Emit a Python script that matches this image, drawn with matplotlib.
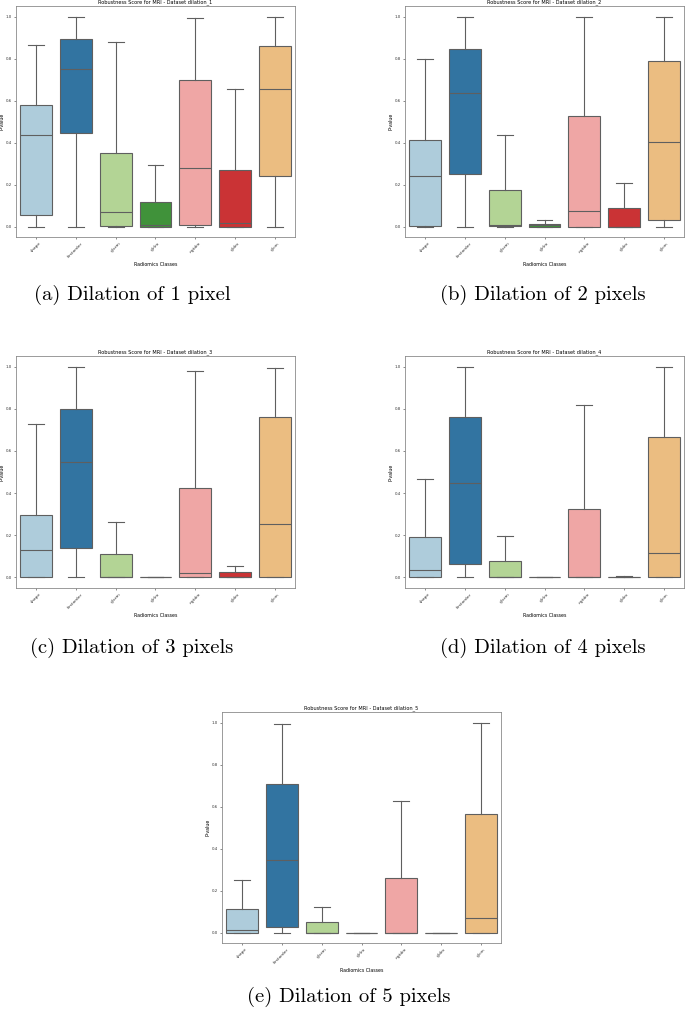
import matplotlib
matplotlib.use("Agg")
import matplotlib.pyplot as plt
import seaborn as sns

classes = ["shape", "firstorder", "glszm", "glrlm", "ngtdm", "gldm", "glcm"]

# box stats: lower whisker, Q1, median, Q3, upper whisker
d1_lo = [0, 0, 0, 0, 0, 0, 0]
d1_q1 = [0.057, 0.444, 0.003, 0.0, 0.005, 0.0, 0.241]
d1_med = [0.436, 0.751, 0.067, 0.008, 0.277, 0.019, 0.656]
d1_q3 = [0.580, 0.892, 0.352, 0.117, 0.699, 0.268, 0.861]
d1_hi = [0.864, 1.0, 0.880, 0.293, 0.994, 0.656, 1.0]

d2_lo = [0, 0, 0, 0, 0, 0, 0]
d2_q1 = [0.002, 0.250, 0.001, 0.0, 0.0, 0.0, 0.032]
d2_med = [0.241, 0.637, 0.006, 0.006, 0.073, 0.0, 0.403]
d2_q3 = [0.412, 0.846, 0.174, 0.011, 0.528, 0.086, 0.789]
d2_hi = [0.799, 1.0, 0.437, 0.029, 1.0, 0.208, 1.0]

d3_lo = [0, 0, 0, 0, 0, 0, 0]
d3_q1 = [0.0, 0.138, 0.0, 0.0, 0.0, 0.0, 0.0]
d3_med = [0.128, 0.548, 0.0, 0.0, 0.019, 0.003, 0.254]
d3_q3 = [0.296, 0.799, 0.109, 0.001, 0.425, 0.024, 0.761]
d3_hi = [0.727, 1.0, 0.263, 0.003, 0.979, 0.055, 0.994]

d4_lo = [0, 0, 0, 0, 0, 0, 0]
d4_q1 = [0.0, 0.062, 0.0, 0.0, 0.0, 0.0, 0.0]
d4_med = [0.033, 0.447, 0.0, 0.0, 0.003, 0.002, 0.114]
d4_q3 = [0.190, 0.761, 0.078, 0.0, 0.326, 0.004, 0.666]
d4_hi = [0.467, 1.0, 0.197, 0.001, 0.818, 0.008, 1.0]

d5_lo = [0, 0, 0, 0, 0, 0, 0]
d5_q1 = [0.0, 0.027, 0.0, 0.0, 0.0, 0.0, 0.0]
d5_med = [0.011, 0.343, 0.0, 0.0, 0.0, 0.0, 0.071]
d5_q3 = [0.111, 0.705, 0.048, 0.0, 0.259, 0.0, 0.562]
d5_hi = [0.248, 0.995, 0.122, 0.0, 0.624, 0.0, 1.0]

titles = ["dilation_1", "dilation_2", "dilation_3", "dilation_4", "dilation_5"]
captions = ["(a) Dilation of 1 pixel", "(b) Dilation of 2 pixels",
            "(c) Dilation of 3 pixels", "(d) Dilation of 4 pixels",
            "(e) Dilation of 5 pixels"]

datasets = [
    (d1_lo, d1_q1, d1_med, d1_q3, d1_hi),
    (d2_lo, d2_q1, d2_med, d2_q3, d2_hi),
    (d3_lo, d3_q1, d3_med, d3_q3, d3_hi),
    (d4_lo, d4_q1, d4_med, d4_q3, d4_hi),
    (d5_lo, d5_q1, d5_med, d5_q3, d5_hi),
]

colors = sns.color_palette("Paired", 7, desat=0.75)
linecol = "#5f5f5f"

W, H = 685, 1011
fig = plt.figure(figsize=(W / 100, H / 100), dpi=100)

# axes boxes in pixels: left, top, right, bottom
boxes = [(16, 6, 295, 237), (405, 6, 684, 237),
         (16, 356, 295, 588), (405, 356, 684, 588),
         (222, 712, 501, 943)]
cap_pos = [(132, 300), (542.5, 300), (132, 653), (543, 653), (349, 1002)]

for k in range(5):
    l, t, r, b = boxes[k]
    ax = fig.add_axes([l / W, 1 - b / H, (r - l) / W, (b - t) / H])
    lo, q1, med, q3, hi = datasets[k]
    stats = []
    for i in range(len(classes)):
        stats.append({"label": classes[i], "whislo": lo[i], "q1": q1[i],
                      "med": med[i], "q3": q3[i], "whishi": hi[i]})
    bp = ax.bxp(stats, positions=range(len(classes)), widths=0.8,
                capwidths=0.4, patch_artist=True, showfliers=False,
                boxprops=dict(edgecolor=linecol, linewidth=0.8),
                whiskerprops=dict(color=linecol, linewidth=0.8),
                capprops=dict(color=linecol, linewidth=0.8),
                medianprops=dict(color=linecol, linewidth=0.8))
    for patch, c in zip(bp["boxes"], colors):
        patch.set_facecolor(c)
    ax.set_xlim(-0.5, 6.5)
    ax.set_ylim(-0.05, 1.05)
    ax.set_yticks([0.0, 0.2, 0.4, 0.6, 0.8, 1.0])
    ax.set_xticks(range(len(classes)))
    ax.set_xticklabels(classes, rotation=45)
    ax.tick_params(length=1.5, width=0.4, pad=1.5, colors="#333333")
    ax.tick_params(axis="y", labelsize=2.8)
    ax.tick_params(axis="x", labelsize=3.2)
    for s in ax.spines.values():
        s.set_color("#8a8a8a")
        s.set_linewidth(0.6)
    ax.set_title("Robustness Score for MRI - Dataset " + titles[k], fontsize=3.6, pad=2)
    ax.set_xlabel("Radiomics Classes", fontsize=3.4, labelpad=3)
    ax.set_ylabel("P-value", fontsize=3.4)
    ax.yaxis.set_label_coords(-0.04, 0.5)

    cx, cy = cap_pos[k]
    fig.text(cx / W, 1 - cy / H, captions[k], ha="center", va="baseline",
             family="cmr10", fontsize=14.8)

fig.savefig("out.png", dpi=100)
